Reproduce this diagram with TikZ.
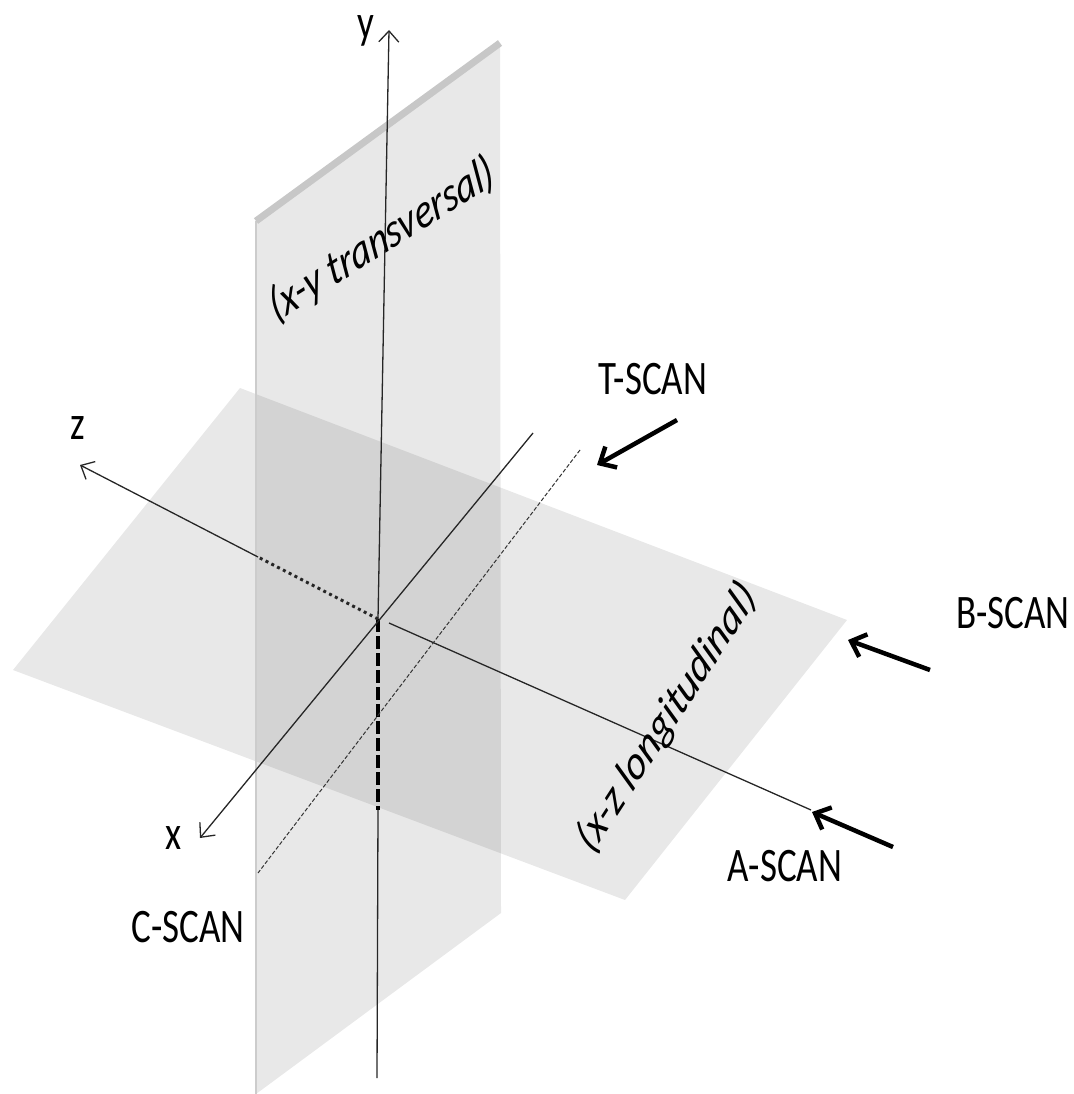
\documentclass[tikz,border=0pt]{standalone}
\usepackage{fontspec}
\setmainfont{Carlito}
\usepackage{graphicx}
\usetikzlibrary{arrows.meta}
\tikzset{
  plane/.style={fill=black, fill opacity=0.09},
  edgeline/.style={draw=black!20, line width=2.5pt},
  rim/.style={draw=black!22, line width=7pt},
  axis/.style={draw=black!85, line width=1.3pt},
  axisarrow/.style={axis, -{Straight Barb[length=11pt,width=20pt]}},
  hiddendash/.style={draw=black, line width=3.2pt, dash pattern=on 13pt off 4pt},
  hiddendot/.style={draw=black!85, line width=3pt, dash pattern=on 3pt off 3.5pt},
  finedash/.style={draw=black!80, line width=1pt, dash pattern=on 4pt off 2pt},
  scanarrow/.style={draw=black, line width=4.5pt, -{Straight Barb[length=13pt,width=24pt]}},
  lbl/.style={font=\fontsize{37}{40}\selectfont, inner sep=0pt, text=black},
  rotlbl/.style={font=\fontsize{38}{40}\selectfont\itshape, inner sep=0pt, text=black}
}
\begin{document}
\begin{tikzpicture}[x=1pt,y=-1pt]
\useasboundingbox (0,0) rectangle (1073,1094);
% horizontal plane (x-z)
\coordinate (hL) at (13,670);
\coordinate (hT) at (240,388);
\coordinate (hR) at (847,620);
\coordinate (hB) at (625,900);
\fill[plane] (hL) -- (hT) -- (hR) -- (hB) -- cycle;
% vertical plane (x-y)
\coordinate (vTL) at (256,221);
\coordinate (vTR) at (500,43);
\coordinate (vBR) at (501,913);
\coordinate (vBL) at (256,1094);
\fill[plane] (vTL) -- (vTR) -- (vBR) -- (vBL) -- cycle;
\draw[edgeline] (vTL) -- (vBL);
\draw[rim] (vTL) -- (vTR);
% axes
\coordinate (O) at (378,619);
\coordinate (ytip) at (389,30);
\coordinate (yhid) at (378,810);
\coordinate (ybot) at (377,1078);
\draw[axisarrow] (O) -- (ytip);
\draw[hiddendash] (O) -- (yhid);
\draw[axis] (yhid) -- (ybot);
\coordinate (zedge) at (258,557);
\coordinate (ztip) at (80,465);
\draw[hiddendot] (O) -- (zedge);
\draw[axisarrow] (zedge) -- (ztip);
\coordinate (zstart) at (389,623);
\coordinate (zend) at (811,810);
\draw[axis] (zstart) -- (zend);
\coordinate (xtop) at (533,433);
\coordinate (xtip) at (200,838);
\draw[axisarrow] (xtop) -- (xtip);
\coordinate (tA) at (580,450);
\coordinate (tB) at (258,873);
\draw[finedash] (tA) -- (tB);
% scan arrows
\coordinate (tS) at (677,420);
\coordinate (tE) at (597,465);
\draw[scanarrow] (tS) -- (tE);
\coordinate (bS) at (930,670);
\coordinate (bE) at (848,640);
\draw[scanarrow] (bS) -- (bE);
\coordinate (aS) at (893,847);
\coordinate (aE) at (812,812);
\draw[scanarrow] (aS) -- (aE);
% labels
\node[lbl] (ylab) at (366,31) {\scalebox{1}[1.3]{y}};
\node[lbl] (zlab) at (78,428) {\scalebox{1}[1.3]{z}};
\node[lbl] (xlab) at (174,838) {\scalebox{1}[1.3]{x}};
\node[lbl] (tscan) at (653,379) {\scalebox{1}[1.3]{T-SCAN}};
\node[lbl] (bscan) at (1013,613) {\scalebox{1}[1.3]{B-SCAN}};
\node[lbl] (ascan) at (785,866) {\scalebox{1}[1.3]{A-SCAN}};
\node[lbl] (cscan) at (188,927) {\scalebox{1}[1.3]{C-SCAN}};
\begin{scope}[shift={(382,240)}, yscale=1.3]
\node[rotlbl, rotate=26, transform shape] (xylab) at (0,0) {(x-y transversal)};
\end{scope}
\begin{scope}[shift={(667,718)}, yscale=1.3]
\node[rotlbl, rotate=50, transform shape] (xzlab) at (0,0) {(x-z longitudinal)};
\end{scope}
\end{tikzpicture}
\end{document}
